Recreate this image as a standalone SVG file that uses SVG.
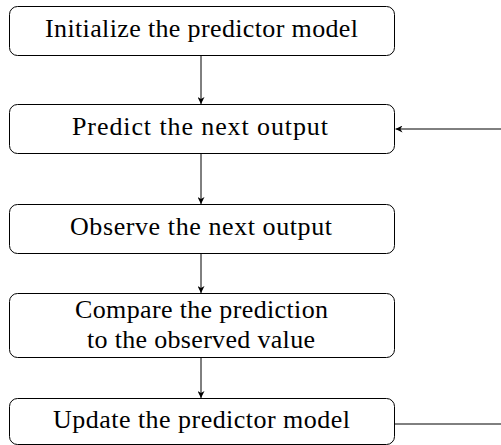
<svg xmlns="http://www.w3.org/2000/svg" width="501" height="445" viewBox="0 0 501 445">
<style>
.box{fill:#fff;stroke:#000;stroke-width:1}
.t{font-family:"Liberation Serif","DejaVu Serif",serif;font-size:26px;fill:#000;text-anchor:middle}
.c{stroke:#000;stroke-width:1;fill:none}
</style>
<defs>
<marker id="ah" viewBox="0 0 10 10" refX="10" refY="5" markerWidth="7" markerHeight="7" markerUnits="userSpaceOnUse" orient="auto">
<path d="M0,0 L10,5 L0,10 L3,5 Z" fill="#000"/>
</marker>
</defs>
<rect width="501" height="445" fill="#fff"/>
<g id="connectors">
<line class="c" x1="201" y1="55" x2="201" y2="104" marker-end="url(#ah)"/>
<line class="c" x1="201" y1="153" x2="201" y2="204" marker-end="url(#ah)"/>
<line class="c" x1="201" y1="253" x2="201" y2="293" marker-end="url(#ah)"/>
<line class="c" x1="201" y1="357" x2="201" y2="398" marker-end="url(#ah)"/>
<line class="c" x1="394" y1="424" x2="501" y2="424"/>
<line class="c" x1="501" y1="129" x2="395.5" y2="129" marker-end="url(#ah)"/>
</g>
<g id="n1">
<rect class="box" x="9.5" y="6.5" width="385" height="49" rx="8"/>
<text class="t" x="201.5" y="37" textLength="313" lengthAdjust="spacing">Initialize the predictor model</text>
</g>
<g id="n2">
<rect class="box" x="9.5" y="104.5" width="385" height="49" rx="8"/>
<text class="t" x="200" y="135" textLength="256" lengthAdjust="spacing">Predict the next output</text>
</g>
<g id="n3">
<rect class="box" x="9.5" y="204.5" width="385" height="49" rx="8"/>
<text class="t" x="201" y="235" textLength="262" lengthAdjust="spacing">Observe the next output</text>
</g>
<g id="n4">
<rect class="box" x="9.5" y="293.5" width="385" height="64" rx="8"/>
<text class="t" x="201.5" y="318" textLength="253" lengthAdjust="spacing">Compare the prediction</text>
<text class="t" x="201" y="348" textLength="228" lengthAdjust="spacing">to the observed value</text>
</g>
<g id="n5">
<rect class="box" x="9.5" y="398.5" width="385" height="46" rx="8"/>
<text class="t" x="201.5" y="428" textLength="297" lengthAdjust="spacing">Update the predictor model</text>
</g>
</svg>
